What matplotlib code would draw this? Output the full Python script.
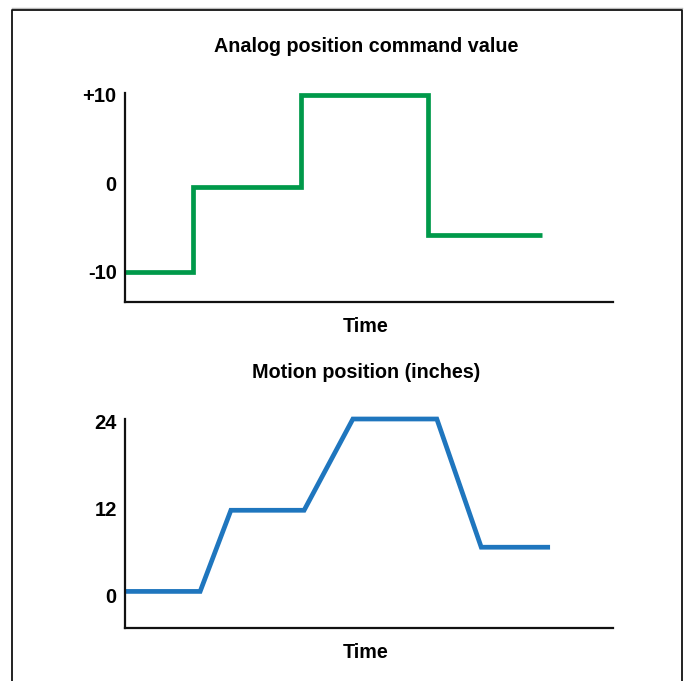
import matplotlib
matplotlib.use("Agg")
import matplotlib.pyplot as plt
from matplotlib.lines import Line2D

plt.rcParams['font.family'] = ['Liberation Sans', 'DejaVu Sans']
plt.rcParams['font.weight'] = 'bold'

# command signal (step changes)
cmd_time = [0, 14, 36, 62, 85.5]
cmd_value = [-10, -0.4, 10, -5.8, -5.8]
cmd_ticks = [-10, 0, 10]
cmd_labels = ['-10', '0', '+10']

# resulting motion (ramps between levels)
pos_time = [0, 15.4, 21.7, 36.7, 46.7, 63.9, 73.0, 87.1]
pos_value = [0.5, 0.5, 11.7, 11.7, 24.3, 24.3, 6.6, 6.6]
pos_ticks = [0, 12, 24]
pos_labels = ['0', '12', '24']

W, H = 686, 681
fig = plt.figure(figsize=(W / 100, H / 100), dpi=100)

def fx(px):
    return px / W

def fy(py):
    return 1 - py / H

green = '#00994a'
blue = '#1f76be'

def setup(ax, ticks, labels, ylim):
    ax.set_xlim(0, 100)
    ax.set_ylim(*ylim)
    for s in ['top', 'right']:
        ax.spines[s].set_visible(False)
    for s in ['left', 'bottom']:
        ax.spines[s].set_linewidth(1.6)
        ax.spines[s].set_color('#111111')
    ax.set_xticks([])
    ax.set_yticks(ticks)
    ax.set_yticklabels(labels, fontsize=14.5, fontweight='bold')
    ax.tick_params(axis='y', length=0, pad=6)

ax1 = fig.add_axes([fx(125), fy(302), fx(613) - fx(125), fy(93) - fy(302)])
ax1.plot(cmd_time, cmd_value, color=green, lw=3.4, solid_joinstyle='miter',
         solid_capstyle='butt', drawstyle='steps-post', clip_on=False)
setup(ax1, cmd_ticks, cmd_labels, (-13.4, 10.2))

ax2 = fig.add_axes([fx(125), fy(628), fx(613) - fx(125), fy(419) - fy(628)])
ax2.plot(pos_time, pos_value, color=blue, lw=3.4, solid_joinstyle='miter',
         solid_capstyle='butt', clip_on=False)
setup(ax2, pos_ticks, pos_labels, (-4.55, 24.3))

cx = fx(366)
fs = 14.2
fig.text(cx, fy(47), 'Analog position command value', ha='center', va='center',
         fontsize=fs, fontweight='bold')
fig.text(cx, fy(327), 'Time', ha='center', va='center', fontsize=fs, fontweight='bold')
fig.text(cx, fy(373), 'Motion position (inches)', ha='center', va='center',
         fontsize=fs, fontweight='bold')
fig.text(cx, fy(653), 'Time', ha='center', va='center', fontsize=fs, fontweight='bold')

# outer frame
fig.add_artist(Line2D([fx(12), fx(682)], [fy(8), fy(8)], color='#bbbbbb', lw=1.0))
fig.add_artist(Line2D([fx(12), fx(12), fx(682), fx(682)],
                      [fy(700), fy(10), fy(10), fy(700)], color='#111111', lw=1.3))

fig.savefig('out.png', dpi=100)
